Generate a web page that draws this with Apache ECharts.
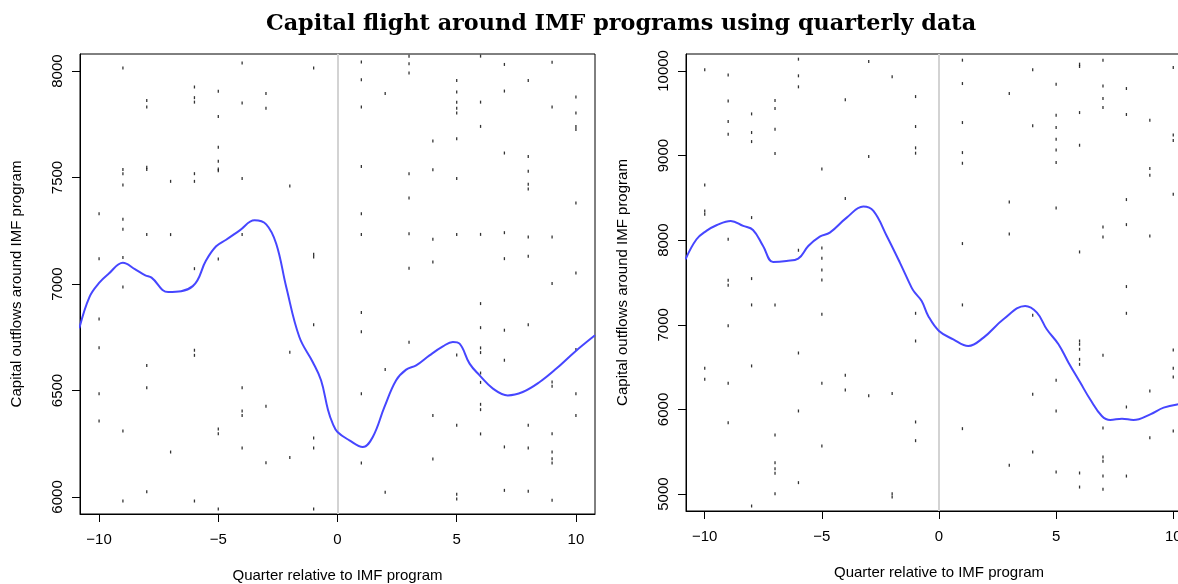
<!DOCTYPE html>
<html><head><meta charset="utf-8">
<script src="https://cdn.jsdelivr.net/npm/echarts@6/dist/echarts.min.js"></script>
<style>html,body{margin:0;padding:0;background:#fff}#c{width:1178px;height:584px}</style>
</head><body><div id="c"></div>
<script>
const titleText = 'Capital flight around IMF programs using quarterly data';
const xAxisName = 'Quarter relative to IMF program';
const yAxisName = 'Capital outflows around IMF program';
const quarters = [-10,-9,-8,-7,-6,-5,-4,-3,-2,-1,0,1,2,3,4,5,6,7,8,9,10];
const xTicks = [-10,-5,0,5,10];
const leftYTicks = [6000,6500,7000,7500,8000];
const rightYTicks = [5000,6000,7000,8000,9000,10000];

// observations per quarter (left panel)
const leftValuesByQuarter = [
  [7330,7119,6836,6701,6485,6357],
  [8014,7538,7518,7465,7304,7257,7124,6986,6310,5981],
  [7862,7831,7548,7538,7232,6617,6513,6025],
  [7482,7232,6211],
  [7925,7875,7854,7518,7482,7072,6689,6665,5981],
  [7905,7787,7642,7576,7540,7532,7117,6319,6297,5944],
  [8038,7850,7495,7232,6513,6404,6382,6230],
  [7894,7825,6426,6161],
  [7460,6679,6185],
  [8014,7140,7127,6809,6277,6230,5944],
  [],
  [8042,7959,7831,7552,7330,7233,6866,6776,6485,6160],
  [7894,6598,6022],
  [8069,8034,7991,7518,7404,7236,7074,6726],
  [7671,7537,7210,7103,6382,6178],
  [7956,7901,7854,7825,7803,7682,7495,7233,6667,6337,6013,5991],
  [8070,7854,7740,7233,6908,6795,6700,6678,6582,6538,6435,6410,6296],
  [8031,7906,7615,7241,7119,6783,6642,6235,6031],
  [7956,7599,7529,7468,7446,7221,7130,6809,6337,6230,6027],
  [8041,7831,7221,7002,6540,6520,6297,6211,6180,6160,5984],
  [7878,7803,7740,7725,7380,7052,6692,6485,6382]
];
// observations per quarter (right panel)
const rightValuesByQuarter = [
  [10013,8653,8346,8306,6486,6356],
  [9953,9646,9402,9252,8011,7526,7467,6990,6309,5844],
  [9492,9272,9165,8267,7546,7235,6514,4859],
  [9650,9556,9311,9024,7235,5698,5371,5300,5245,5005],
  [10139,9942,9812,7881,6667,5982,5135],
  [8842,7909,7786,7648,7530,7124,6309,5568],
  [9658,8492,6403,6230],
  [10111,8988,6163],
  [9930,6187,5005,4965],
  [9697,9343,9091,9028,7136,6809,5852,5631],
  [],
  [10127,9851,9390,9035,8909,7960,7235,5773],
  [],
  [9733,8452,8074,5340],
  [10013,9351,7113,6179,5497],
  [9843,9477,9331,9193,9067,8917,8381,6344,5982,5261],
  [10080,10052,9508,9122,7861,6809,6770,6711,6592,6533,5249,5083],
  [10127,9823,9674,9567,8157,8039,6640,5781,5438,5387,5213,5056],
  [9792,9485,8480,8184,7452,7136,6029,5213],
  [9418,8846,8767,8050,6218,5667],
  [10040,9244,9177,8543,6703,6486,6384,5745]
];

// smoothed curves
const leftCurveX = [-10.83,-10.4,-10,-9.6,-9,-8.5,-8.06,-7.8,-7.1,-6.07,-5.51,-5.09,-4.67,-4.1,-3.48,-2.99,-2.57,-2.15,-1.6,-1.04,-0.69,-0.4,-0.2,0,0.5,1.06,1.48,1.97,2.46,2.88,3.3,3.86,4.42,4.84,5.12,5.54,5.96,6.52,7.14,7.77,8.48,9.18,9.95,10.8];
const leftCurveY = [6792,6940,7005,7048,7100,7070,7041,7030,6962,6990,7111,7177,7208,7252,7299,7280,7189,6986,6751,6634,6548,6410,6344,6305,6266,6235,6282,6423,6548,6598,6618,6665,6707,6728,6720,6626,6571,6509,6477,6493,6540,6603,6681,6759];
const rightCurveX = [-10.82,-10.35,-9.93,-9.5,-8.89,-8.36,-7.94,-7.51,-7.08,-6.51,-6.01,-5.58,-5.09,-4.66,-3.94,-3.23,-2.8,-2.23,-1.67,-1.17,-1.03,-0.74,-0.46,0,0.61,1.25,1.9,2.75,3.68,4.18,4.6,5.1,5.53,6.03,6.45,6.95,7.31,7.81,8.3,9.02,9.59,10.21,10.8];
const rightCurveY = [7775,8011,8110,8177,8228,8169,8121,7932,7743,7755,7782,7932,8043,8090,8267,8397,8346,8050,7735,7440,7380,7282,7105,6927,6829,6750,6849,7065,7223,7144,6947,6770,6553,6317,6120,5923,5875,5891,5875,5942,6021,6061,6075];

function toPoints(byQuarter){
  const pts = [];
  byQuarter.forEach((vals,i)=>vals.forEach(v=>pts.push([quarters[i], v])));
  return pts;
}
function zip(xs, ys){ return xs.map((x,i)=>[x, ys[i]]); }
const fmt = v => String(v).replace('-', '\u2212');
const FONT = 'Liberation Sans, Arial, sans-serif';

function xAxis(gi){
  return {
    type:'value', gridIndex:gi, min:-10.8, max:10.8,
    name:xAxisName, nameLocation:'middle', nameGap:54,
    nameTextStyle:{fontFamily:FONT,fontSize:15,color:'#000'},
    axisLine:{show:true,onZero:false,lineStyle:{color:'#000',width:1}},
    axisTick:{show:true,length:8,customValues:xTicks,lineStyle:{color:'#000'}},
    axisLabel:{show:true,customValues:xTicks,margin:18,formatter:fmt,fontFamily:FONT,fontSize:15,color:'#000'},
    splitLine:{show:false}
  };
}
function yAxis(gi, min, max, ticks){
  return {
    type:'value', gridIndex:gi, min:min, max:max,
    name:yAxisName, nameLocation:'middle', nameGap:56,
    nameTextStyle:{fontFamily:FONT,fontSize:15,color:'#000'},
    axisLine:{show:true,onZero:false,lineStyle:{color:'#000',width:1}},
    axisTick:{show:true,length:8,customValues:ticks,lineStyle:{color:'#000'}},
    axisLabel:{show:true,customValues:ticks,rotate:90,margin:15,formatter:v=>String(v),fontFamily:FONT,fontSize:15,color:'#000'},
    splitLine:{show:false}
  };
}
function scatter(gi, pts){
  return {type:'scatter', xAxisIndex:gi, yAxisIndex:gi, data:pts, symbol:'rect', symbolSize:[1.3,3],
    itemStyle:{color:'#000'}, silent:true, animation:false, z:3};
}
function curve(gi, pts){
  return {type:'line', xAxisIndex:gi, yAxisIndex:gi, data:pts, smooth:0.4, showSymbol:false,
    lineStyle:{color:'#4646ff',width:2}, silent:true, animation:false, z:4,
    markLine:{silent:true, symbol:['none','none'], label:{show:false},
      lineStyle:{color:'#d3d3d3',width:2,type:'solid'}, data:[{xAxis:0}], animation:false, z:2}};
}

const chart = echarts.init(document.getElementById('c'), null, {renderer:'canvas'});
chart.setOption({
  backgroundColor:'#fff',
  animation:false,
  title:{text:titleText, left:616, top:8, textAlign:'center',
    textStyle:{fontFamily:'DejaVu Serif, serif', fontWeight:'bold', fontSize:22.3, color:'#000'}},
  grid:[
    {left:80, top:54, width:515, height:460, show:true, borderColor:'#000', borderWidth:1, backgroundColor:'transparent', outerBoundsMode:'none', containLabel:false},
    {left:686, top:54, width:506, height:457, show:true, borderColor:'#000', borderWidth:1, backgroundColor:'transparent', outerBoundsMode:'none', containLabel:false}
  ],
  xAxis:[xAxis(0), xAxis(1)],
  yAxis:[yAxis(0,5920,8080,leftYTicks), yAxis(1,4800,10200,rightYTicks)],
  series:[
    scatter(0, toPoints(leftValuesByQuarter)),
    curve(0, zip(leftCurveX, leftCurveY)),
    scatter(1, toPoints(rightValuesByQuarter)),
    curve(1, zip(rightCurveX, rightCurveY))
  ]
});
</script></body></html>
